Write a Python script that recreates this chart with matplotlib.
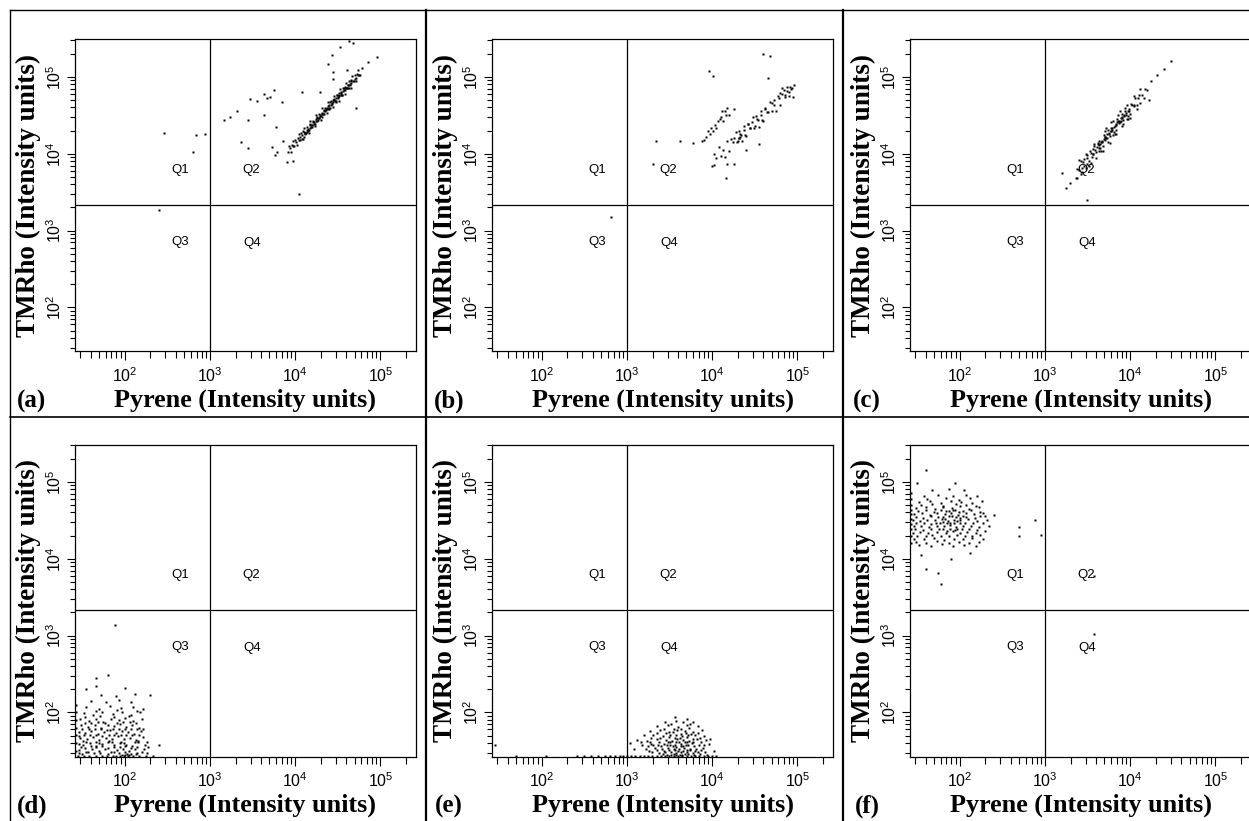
import numpy as np
import matplotlib.pyplot as plt
from matplotlib.lines import Line2D

# events, as (log10 Pyrene, log10 TMRho)
pts_a = [
    (3.92, 4.02), (3.93, 4.10), (3.94, 4.07), (3.95, 4.02), (3.96, 4.11), (3.97, 4.17), (3.98, 4.10),
    (3.99, 4.10), (4.00, 4.18), (4.01, 4.15), (4.02, 4.11), (4.03, 4.20), (4.04, 4.25), (4.05, 4.18),
    (4.06, 4.18), (4.07, 4.27), (4.08, 4.24), (4.09, 4.19), (4.10, 4.28), (4.11, 4.33), (4.12, 4.27),
    (4.13, 4.27), (4.14, 4.35), (4.15, 4.32), (4.16, 4.27), (4.17, 4.37), (4.18, 4.42), (4.19, 4.35),
    (4.20, 4.35), (4.21, 4.43), (4.22, 4.41), (4.23, 4.36), (4.24, 4.45), (4.25, 4.50), (4.26, 4.43),
    (4.27, 4.44), (4.28, 4.52), (4.29, 4.49), (4.30, 4.44), (4.31, 4.53), (4.32, 4.59), (4.33, 4.52),
    (4.34, 4.52), (4.35, 4.60), (4.36, 4.57), (4.37, 4.53), (4.38, 4.62), (4.39, 4.67), (4.40, 4.60),
    (4.41, 4.60), (4.42, 4.69), (4.43, 4.66), (4.44, 4.61), (4.45, 4.70), (4.46, 4.75), (4.47, 4.69),
    (4.48, 4.69), (4.49, 4.77), (4.50, 4.74), (4.51, 4.69), (4.52, 4.79), (4.53, 4.84), (4.54, 4.77),
    (4.55, 4.77), (4.56, 4.85), (4.57, 4.83), (4.58, 4.78), (4.59, 4.87), (4.60, 4.92), (4.61, 4.85),
    (4.62, 4.86), (4.63, 4.94), (4.64, 4.91), (4.65, 4.86), (4.66, 4.95), (4.67, 5.01), (4.68, 4.94),
    (4.69, 4.94), (4.70, 5.02), (4.71, 4.99), (4.72, 4.95), (4.73, 5.04), (4.74, 5.09), (4.75, 5.02),
    (4.76, 5.02), (4.78, 5.12),
    (4.055, 4.22), (4.075, 4.19), (4.095, 4.29), (4.115, 4.27), (4.135, 4.31), (4.155, 4.29),
    (4.175, 4.38), (4.195, 4.37), (4.215, 4.41), (4.235, 4.38), (4.255, 4.48), (4.275, 4.46),
    (4.295, 4.51), (4.315, 4.48), (4.335, 4.57), (4.355, 4.56), (4.375, 4.60), (4.395, 4.58),
    (4.415, 4.67), (4.435, 4.65), (4.455, 4.70), (4.475, 4.67), (4.495, 4.77), (4.515, 4.75),
    (4.535, 4.79), (4.555, 4.77), (4.575, 4.86), (4.595, 4.85), (4.615, 4.89), (4.635, 4.86),
    (4.655, 4.96),
    (4.10, 4.22), (4.14, 4.28), (4.18, 4.33), (4.22, 4.39), (4.26, 4.46), (4.30, 4.49), (4.34, 4.56),
    (4.38, 4.58), (4.42, 4.64), (4.46, 4.71), (4.50, 4.72), (4.54, 4.80), (4.58, 4.83), (4.62, 4.90),
    (4.66, 4.92), (4.70, 4.97), (4.12, 4.25), (4.16, 4.31), (4.20, 4.37), (4.24, 4.42), (4.28, 4.47),
    (4.32, 4.52), (4.36, 4.58), (4.40, 4.63), (4.44, 4.67), (4.48, 4.73), (4.52, 4.76), (4.56, 4.82),
    (4.60, 4.86), (4.64, 4.89),
    (2.46, 4.27), (2.84, 4.24), (2.94, 4.26), (2.80, 4.02), (2.40, 3.27), (3.17, 4.44), (3.24, 4.48),
    (3.32, 4.56), (3.47, 4.71), (3.55, 4.69), (3.63, 4.78), (3.67, 4.73), (3.75, 4.83), (3.71, 4.74),
    (3.85, 4.67), (3.63, 4.50), (3.45, 4.44), (3.36, 4.15), (3.45, 4.07), (4.08, 4.80), (4.43, 5.28),
    (4.53, 5.39), (4.63, 5.47), (4.68, 5.44), (4.39, 5.17), (4.45, 5.06), (4.61, 5.09), (4.86, 5.19),
    (4.96, 5.26), (4.72, 4.59), (4.04, 3.48), (3.90, 3.89), (3.98, 3.91), (3.77, 4.35), (3.73, 4.09),
    (3.79, 4.02), (3.76, 3.98), (3.86, 4.17), (4.29, 4.80), (4.45, 4.97), (4.74, 5.02),
]

pts_b = [
    (4.000, 3.84), (4.025, 4.00), (4.050, 3.95), (4.075, 4.09), (4.100, 3.97), (4.125, 4.05),
    (4.150, 3.96), (4.175, 4.16), (4.200, 4.04), (4.225, 4.19), (4.250, 4.15), (4.275, 4.28),
    (4.300, 4.17), (4.325, 4.25), (4.350, 4.16), (4.375, 4.36), (4.400, 4.23), (4.425, 4.39),
    (4.450, 4.34), (4.475, 4.48), (4.500, 4.36), (4.525, 4.45), (4.550, 4.35), (4.575, 4.56),
    (4.600, 4.43), (4.625, 4.58), (4.650, 4.54), (4.675, 4.67), (4.700, 4.56), (4.725, 4.64),
    (4.750, 4.55), (4.775, 4.75), (4.800, 4.63), (4.825, 4.78), (4.850, 4.74), (4.875, 4.87),
    (4.900, 4.75), (4.925, 4.84), (4.950, 4.74),
    (4.80, 4.79), (4.84, 4.83), (4.88, 4.82), (4.91, 4.87), (4.94, 4.86), (4.96, 4.89), (4.86, 4.76),
    (4.78, 4.72), (4.82, 4.86), (4.73, 4.70), (4.70, 4.66), (4.90, 4.80),
    (4.26, 4.21), (4.29, 4.15), (4.31, 4.29), (4.34, 4.24), (4.37, 4.31), (4.39, 4.24), (4.42, 4.39),
    (4.44, 4.34), (4.47, 4.41), (4.49, 4.34), (4.52, 4.49), (4.54, 4.44), (4.57, 4.51), (4.59, 4.44),
    (4.62, 4.59), (4.64, 4.54), (4.32, 4.21), (4.33, 4.22), (4.32, 4.20),
    (4.18, 4.59), (4.15, 4.55), (4.11, 4.48), (4.07, 4.42), (4.03, 4.37), (3.99, 4.33), (3.95, 4.29),
    (3.93, 4.22), (3.91, 4.18), (4.20, 4.51), (4.26, 4.58), (4.13, 4.42), (4.01, 4.29), (4.05, 4.34),
    (4.09, 4.45), (4.16, 4.50), (3.97, 4.25), (4.12, 4.56),
    (4.60, 5.30), (4.68, 5.27), (3.96, 5.07), (4.01, 5.01), (4.65, 4.99), (4.02, 3.85), (4.16, 3.69),
    (4.17, 3.86), (4.26, 3.86), (3.34, 4.16), (3.62, 4.16), (3.78, 4.14), (3.88, 4.17), (4.55, 4.12),
    (4.40, 4.05), (2.81, 3.17), (3.31, 3.86),
]

pts_c = [
    (3.36, 3.69), (3.38, 3.80), (3.40, 3.79), (3.42, 3.90), (3.44, 3.81), (3.46, 3.93), (3.48, 3.82),
    (3.50, 3.94), (3.52, 3.90), (3.54, 4.01), (3.56, 4.00), (3.58, 4.10), (3.60, 4.02), (3.62, 4.14),
    (3.64, 4.03), (3.66, 4.15), (3.68, 4.10), (3.70, 4.22), (3.72, 4.21), (3.74, 4.31), (3.76, 4.23),
    (3.78, 4.34), (3.80, 4.24), (3.82, 4.36), (3.84, 4.31), (3.86, 4.43), (3.88, 4.41), (3.90, 4.52),
    (3.92, 4.44), (3.94, 4.55), (3.96, 4.45), (3.98, 4.56), (4.00, 4.52), (4.02, 4.64), (4.04, 4.62),
    (4.06, 4.73), (4.08, 4.64), (4.10, 4.76), (4.12, 4.66), (4.14, 4.77), (4.16, 4.73), (4.18, 4.84),
    (4.20, 4.83),
    (3.45, 3.89), (3.49, 3.87), (3.53, 4.03), (3.57, 4.00), (3.61, 4.09), (3.65, 4.08), (3.69, 4.24),
    (3.73, 4.21), (3.77, 4.30), (3.81, 4.28), (3.85, 4.45), (3.89, 4.42), (3.93, 4.51), (3.97, 4.49),
    (4.01, 4.65), (4.05, 4.63), (4.09, 4.72), (3.67, 4.15), (3.71, 4.18), (3.75, 4.26), (3.79, 4.31),
    (3.83, 4.38), (3.87, 4.40), (3.91, 4.47), (3.95, 4.50), (3.99, 4.58), (3.63, 4.08), (3.59, 4.05),
    (3.55, 3.96),
    (3.40, 3.92), (3.44, 3.76), (3.48, 4.00), (3.52, 3.84), (3.56, 4.06), (3.60, 3.94), (3.64, 4.17),
    (3.68, 4.04), (3.72, 4.33), (3.76, 4.14), (3.80, 4.43), (3.84, 4.26), (3.88, 4.55), (3.92, 4.38),
    (3.96, 4.64), (4.00, 4.46), (4.04, 4.75), (4.08, 4.58), (4.12, 4.84), (3.62, 4.13), (3.66, 4.04),
    (3.70, 4.29), (3.74, 4.15), (3.78, 4.41), (3.82, 4.25), (3.86, 4.50), (3.90, 4.36), (3.94, 4.60),
    (3.98, 4.45), (3.50, 3.98), (3.54, 3.88), (3.58, 4.12), (3.46, 3.84), (3.42, 3.74), (3.38, 3.68),
    (3.63, 4.11), (3.67, 4.16), (3.71, 4.22), (3.75, 4.27), (3.79, 4.33), (3.83, 4.37), (3.87, 4.42),
    (3.91, 4.48), (3.95, 4.53), (3.99, 4.56), (3.65, 4.12), (3.69, 4.19), (3.73, 4.25), (3.77, 4.29),
    (3.81, 4.35), (3.85, 4.41), (3.89, 4.46), (3.93, 4.49),
    (4.25, 4.95), (4.32, 5.02), (4.40, 5.10), (4.48, 5.20), (3.30, 3.62), (3.25, 3.55), (3.50, 3.40),
    (4.22, 4.70), (3.20, 3.75),
]

pts_d = [
    (1.45, 1.43), (1.52, 1.43), (1.58, 1.43), (1.66, 1.43), (1.73, 1.43), (1.79, 1.43), (1.86, 1.43),
    (1.90, 1.43), (1.95, 1.43), (1.99, 1.43), (2.04, 1.43), (2.10, 1.43), (2.17, 1.43), (2.25, 1.43),
    (2.33, 1.43),
    (1.47, 1.51), (1.55, 1.49), (1.62, 1.52), (1.70, 1.50), (1.77, 1.53), (1.84, 1.49), (1.91, 1.51),
    (1.98, 1.52), (2.05, 1.50), (2.12, 1.53), (2.20, 1.49),
    (1.46, 1.59), (1.51, 1.57), (1.59, 1.60), (1.66, 1.56), (1.74, 1.59), (1.81, 1.61), (1.88, 1.57),
    (1.95, 1.60), (2.02, 1.58), (2.09, 1.56), (2.16, 1.61), (2.24, 1.58),
    (1.48, 1.67), (1.56, 1.65), (1.63, 1.68), (1.70, 1.64), (1.78, 1.67), (1.85, 1.66), (1.92, 1.69),
    (1.99, 1.65), (2.06, 1.67), (2.13, 1.64), (2.21, 1.68),
    (1.47, 1.75), (1.54, 1.73), (1.61, 1.76), (1.69, 1.72), (1.76, 1.75), (1.83, 1.77), (1.90, 1.73),
    (1.97, 1.76), (2.04, 1.74), (2.11, 1.72), (2.19, 1.76),
    (1.49, 1.83), (1.57, 1.81), (1.65, 1.84), (1.72, 1.80), (1.80, 1.83), (1.88, 1.82), (1.95, 1.85),
    (2.02, 1.81), (2.09, 1.84), (2.17, 1.80),
    (1.48, 1.91), (1.58, 1.89), (1.67, 1.92), (1.75, 1.88), (1.84, 1.91), (1.93, 1.90), (2.01, 1.93),
    (2.10, 1.89), (2.20, 1.92),
    (1.52, 1.99), (1.63, 1.97), (1.74, 2.00), (1.86, 1.98), (1.97, 2.01), (2.08, 1.97), (2.18, 2.00),
    (1.55, 2.07), (1.70, 2.05), (1.83, 2.08), (1.96, 2.06), (2.10, 2.07), (2.22, 2.05),
    (1.60, 2.15), (1.78, 2.13), (1.93, 2.16), (2.07, 2.14),
    (1.72, 2.23), (1.90, 2.21), (2.12, 2.24), (2.30, 2.22),
    (1.50, 1.46), (1.64, 1.47), (1.81, 1.46), (1.93, 1.47), (2.07, 1.46), (2.15, 1.47),
    (1.53, 1.54), (1.67, 1.55), (1.80, 1.54), (1.94, 1.55), (2.07, 1.54), (2.23, 1.53),
    (1.51, 1.63), (1.67, 1.62), (1.82, 1.63), (1.96, 1.62), (2.16, 1.63),
    (1.52, 1.70), (1.66, 1.71), (1.82, 1.70), (1.96, 1.71), (2.09, 1.70),
    (1.58, 1.78), (1.72, 1.79), (1.86, 1.78), (2.00, 1.79), (2.14, 1.78),
    (1.53, 1.86), (1.69, 1.87), (1.91, 1.86), (2.06, 1.87),
    (1.46, 1.47), (1.57, 1.48), (1.71, 1.47), (1.87, 1.48), (2.00, 1.48), (2.13, 1.46), (2.26, 1.47),
    (1.49, 1.55), (1.60, 1.56), (1.73, 1.56), (1.87, 1.55), (2.00, 1.56), (2.14, 1.55), (2.28, 1.55),
    (1.55, 1.61), (1.70, 1.60), (1.85, 1.62), (1.99, 1.60), (2.12, 1.62), (2.26, 1.62),
    (1.46, 1.69), (1.59, 1.70), (1.74, 1.69), (1.88, 1.70), (2.02, 1.70), (2.17, 1.71),
    (1.50, 1.78), (1.65, 1.78), (1.79, 1.77), (1.93, 1.79), (2.07, 1.78), (2.22, 1.79),
    (1.61, 1.86), (1.77, 1.86), (1.98, 1.87), (2.13, 1.86),
    (1.53, 1.94), (1.71, 1.95), (1.88, 1.94), (2.05, 1.95),
    (1.66, 2.02), (1.91, 2.03), (2.14, 2.02),
    (1.97, 1.44), (2.01, 1.45), (2.05, 1.44), (2.03, 1.46),
    (1.43, 1.50), (1.43, 1.60), (1.43, 1.70), (1.43, 1.80), (1.43, 1.90), (1.43, 2.00), (1.43, 2.10),
    (1.89, 3.14), (1.81, 2.49), (1.67, 2.45), (1.66, 2.34), (2.40, 1.58), (1.55, 2.30), (2.00, 2.32),
]

pts_e = [
    (2.42, 1.43), (2.50, 1.43), (2.58, 1.43), (2.66, 1.43), (2.74, 1.43), (2.80, 1.43), (2.86, 1.43),
    (2.92, 1.43), (2.96, 1.43), (3.00, 1.43), (3.05, 1.43), (3.10, 1.43), (3.15, 1.43), (3.20, 1.43),
    (3.25, 1.43), (3.30, 1.43), (3.35, 1.43), (3.40, 1.43), (3.45, 1.43), (3.50, 1.43), (3.55, 1.43),
    (3.60, 1.43), (3.65, 1.43), (3.70, 1.43), (3.75, 1.43), (3.80, 1.43), (3.85, 1.43), (3.90, 1.43),
    (3.95, 1.43), (4.00, 1.43), (4.04, 1.43), (1.45, 1.58), (1.70, 1.43), (2.05, 1.43),
    (3.30, 1.48), (3.38, 1.47), (3.45, 1.49), (3.52, 1.48), (3.58, 1.47), (3.64, 1.49), (3.70, 1.48),
    (3.77, 1.47), (3.84, 1.49), (3.92, 1.48),
    (3.22, 1.53), (3.33, 1.54), (3.41, 1.52), (3.48, 1.54), (3.55, 1.53), (3.61, 1.52), (3.67, 1.54),
    (3.74, 1.53), (3.81, 1.52), (3.89, 1.54),
    (3.18, 1.58), (3.28, 1.59), (3.37, 1.57), (3.44, 1.59), (3.51, 1.58), (3.57, 1.57), (3.63, 1.59),
    (3.69, 1.58), (3.76, 1.60), (3.85, 1.57), (3.96, 1.59),
    (3.12, 1.64), (3.24, 1.63), (3.35, 1.65), (3.46, 1.64), (3.53, 1.63), (3.59, 1.65), (3.66, 1.64),
    (3.73, 1.63), (3.82, 1.65), (3.93, 1.64),
    (3.20, 1.70), (3.31, 1.71), (3.42, 1.69), (3.51, 1.71), (3.58, 1.70), (3.65, 1.69), (3.72, 1.71),
    (3.80, 1.70), (3.90, 1.69),
    (3.27, 1.76), (3.39, 1.77), (3.50, 1.75), (3.59, 1.77), (3.68, 1.76), (3.77, 1.75), (3.88, 1.77),
    (3.35, 1.82), (3.48, 1.83), (3.60, 1.81), (3.70, 1.83), (3.83, 1.82),
    (3.45, 1.88), (3.58, 1.89), (3.66, 1.87), (3.78, 1.88),
    (3.57, 1.94), (3.70, 1.92), (3.04, 1.60), (3.08, 1.52), (4.02, 1.50), (3.98, 1.66),
    (3.47, 1.45), (3.55, 1.46), (3.62, 1.45), (3.68, 1.46), (3.50, 1.51), (3.60, 1.50), (3.70, 1.51),
    (3.54, 1.56), (3.66, 1.56), (3.48, 1.61), (3.61, 1.61), (3.71, 1.61), (3.56, 1.67), (3.63, 1.72),
    (3.55, 1.79),
    (3.26, 1.50), (3.35, 1.51), (3.43, 1.50), (3.57, 1.51), (3.66, 1.50), (3.74, 1.51), (3.80, 1.50),
    (3.87, 1.51), (3.25, 1.56), (3.31, 1.57), (3.40, 1.56), (3.47, 1.57), (3.58, 1.55), (3.64, 1.56),
    (3.72, 1.57), (3.79, 1.56), (3.91, 1.57), (3.16, 1.61), (3.27, 1.62), (3.38, 1.61), (3.51, 1.62),
    (3.58, 1.61), (3.68, 1.62), (3.78, 1.61), (3.87, 1.62), (3.28, 1.67), (3.39, 1.67), (3.49, 1.68),
    (3.62, 1.67), (3.70, 1.68), (3.78, 1.66), (3.86, 1.67), (3.35, 1.73), (3.46, 1.73), (3.54, 1.74),
    (3.69, 1.73), (3.75, 1.72), (3.84, 1.73), (3.43, 1.79), (3.64, 1.79), (3.73, 1.80), (3.52, 1.85),
    (3.74, 1.85), (3.42, 1.46), (3.52, 1.45), (3.58, 1.45), (3.65, 1.45), (3.72, 1.46), (3.79, 1.45),
    (3.86, 1.46), (3.94, 1.45),
]

pts_f = [
    (1.43, 4.20), (1.43, 4.30), (1.43, 4.38), (1.43, 4.45), (1.43, 4.52), (1.43, 4.58), (1.43, 4.64),
    (1.43, 4.70), (1.43, 4.78), (1.43, 4.85),
    (1.52, 4.18), (1.66, 4.17), (1.79, 4.19), (1.92, 4.16), (2.05, 4.18), (2.19, 4.17),
    (1.47, 4.26), (1.58, 4.25), (1.70, 4.27), (1.82, 4.24), (1.93, 4.26), (2.04, 4.25), (2.15, 4.27),
    (2.27, 4.25),
    (1.45, 4.34), (1.53, 4.35), (1.63, 4.33), (1.74, 4.35), (1.84, 4.34), (1.92, 4.36), (2.00, 4.33),
    (2.09, 4.35), (2.19, 4.34), (2.30, 4.36),
    (1.46, 4.42), (1.55, 4.43), (1.64, 4.41), (1.73, 4.43), (1.82, 4.42), (1.89, 4.44), (1.96, 4.41),
    (2.04, 4.43), (2.13, 4.42), (2.23, 4.41), (2.35, 4.43),
    (1.45, 4.50), (1.53, 4.49), (1.62, 4.51), (1.71, 4.50), (1.79, 4.52), (1.86, 4.49), (1.93, 4.51),
    (2.01, 4.50), (2.10, 4.52), (2.20, 4.49), (2.32, 4.51),
    (1.47, 4.58), (1.56, 4.59), (1.65, 4.57), (1.74, 4.59), (1.83, 4.58), (1.90, 4.60), (1.98, 4.57),
    (2.07, 4.59), (2.17, 4.58), (2.28, 4.60), (2.40, 4.57),
    (1.49, 4.66), (1.60, 4.67), (1.71, 4.65), (1.81, 4.67), (1.91, 4.66), (2.01, 4.68), (2.11, 4.65),
    (2.23, 4.67),
    (1.52, 4.74), (1.65, 4.75), (1.78, 4.73), (1.90, 4.75), (2.02, 4.74), (2.15, 4.73), (2.26, 4.75),
    (1.58, 4.82), (1.75, 4.83), (1.92, 4.81), (2.08, 4.83), (2.20, 4.82),
    (1.68, 4.90), (1.88, 4.91), (2.05, 4.89),
    (1.77, 4.46), (1.85, 4.46), (1.93, 4.47), (2.00, 4.46), (1.80, 4.54), (1.88, 4.55), (1.96, 4.54),
    (2.04, 4.55), (1.84, 4.62), (1.92, 4.63), (1.99, 4.61), (1.81, 4.39), (1.89, 4.38), (1.97, 4.39),
    (2.24, 4.55),
    (1.49, 4.22), (1.61, 4.21), (1.74, 4.23), (1.87, 4.21), (1.99, 4.22), (2.11, 4.21), (2.23, 4.22),
    (1.50, 4.30), (1.60, 4.29), (1.68, 4.31), (1.78, 4.30), (1.88, 4.29), (1.97, 4.31), (2.06, 4.30),
    (2.14, 4.29), (2.24, 4.31), (1.48, 4.38), (1.57, 4.37), (1.67, 4.39), (1.76, 4.38), (1.85, 4.36),
    (1.94, 4.37), (2.03, 4.38), (2.11, 4.39), (2.20, 4.37), (1.49, 4.46), (1.58, 4.47), (1.67, 4.45),
    (1.72, 4.47), (1.81, 4.48), (1.89, 4.46), (1.97, 4.49), (2.06, 4.46), (2.16, 4.47), (2.27, 4.46),
    (1.49, 4.54), (1.57, 4.53), (1.66, 4.55), (1.75, 4.54), (1.83, 4.52), (1.91, 4.55), (2.00, 4.53),
    (2.08, 4.54), (2.18, 4.53), (2.30, 4.55), (1.51, 4.62), (1.61, 4.63), (1.70, 4.61), (1.78, 4.63),
    (1.87, 4.62), (1.95, 4.64), (2.04, 4.62), (2.13, 4.63), (2.24, 4.61), (1.55, 4.70), (1.68, 4.71),
    (1.80, 4.69), (1.96, 4.71), (2.08, 4.70), (2.19, 4.69), (1.62, 4.78), (1.84, 4.79), (1.99, 4.77),
    (2.12, 4.79),
    (1.61, 5.15), (1.50, 4.98), (1.95, 4.98), (2.70, 4.41), (2.70, 4.29), (2.88, 4.50), (2.95, 4.31),
    (1.78, 3.67), (1.75, 3.81), (1.60, 3.87), (1.90, 4.00), (3.58, 3.78), (3.58, 3.02), (1.55, 4.05),
    (2.12, 4.08),
]

panels = [pts_a, pts_b, pts_c, pts_d, pts_e, pts_f]
letters = ['(a)', '(b)', '(c)', '(d)', '(e)', '(f)']
quad_names = ['Q1', 'Q2', 'Q3', 'Q4']
quad_pos = [(2.65, 3.79), (3.48, 3.79), (2.65, 2.85), (3.50, 2.84)]  # log10 positions
gate_x = 1000
gate_y = 2120
major_ticks = [1e2, 1e3, 1e4, 1e5]
major_labels = [r'$\mathregular{10^{2}}$', r'$\mathregular{10^{3}}$',
                r'$\mathregular{10^{4}}$', r'$\mathregular{10^{5}}$']
minor_ticks = [m * 10 ** e for e in range(1, 6) for m in range(2, 10)]
x_label = 'Pyrene (Intensity units)'
y_label = 'TMRho (Intensity units)'

W, H = 1249, 821
fig = plt.figure(figsize=(W / 100, H / 100), dpi=100)

col_left = [75, 492, 910]
row_top = [39.5, 444.5]
AX_W, AX_H = 341, 312
xlim = (10 ** 1.418, 10 ** 5.418)
ylim = (10 ** 1.426, 10 ** 5.486)

for k, pts in enumerate(panels):
    r, c = divmod(k, 3)
    l, t = col_left[c], row_top[r]
    ax = fig.add_axes([l / W, 1 - (t + AX_H) / H, AX_W / W, AX_H / H])
    ax.set_xscale('log')
    ax.set_yscale('log')

    lx = np.array([p[0] for p in pts])
    ly = np.array([p[1] for p in pts])
    ax.plot(10 ** lx, 10 ** ly, 's', ms=1.9, mec='none', mfc='black', clip_on=False)

    ax.axvline(gate_x, color='black', lw=0.9)
    ax.axhline(gate_y, color='black', lw=0.9)
    for name, (qx, qy) in zip(quad_names, quad_pos):
        ax.text(10 ** qx, 10 ** qy, name, ha='center', va='center',
                fontsize=9.5, family='Liberation Sans')

    ax.set_xticks(major_ticks)
    ax.set_xticks(minor_ticks, minor=True)
    ax.set_xticklabels(major_labels, family='Liberation Sans', fontsize=11.5)
    ax.set_xticklabels([], minor=True)
    ax.set_yticks(major_ticks)
    ax.set_yticks(minor_ticks, minor=True)
    ax.set_yticklabels(major_labels, family='Liberation Sans', fontsize=11.5,
                       rotation=90, va='center')
    ax.set_yticklabels([], minor=True)
    ax.set_xlim(xlim)
    ax.set_ylim(ylim)
    ax.tick_params(axis='x', which='major', direction='out', length=6.5, width=0.8, pad=4.5)
    ax.tick_params(axis='x', which='minor', direction='out', length=5, width=0.8)
    ax.tick_params(axis='y', which='major', direction='out', length=6, width=0.8, pad=2)
    ax.tick_params(axis='y', which='minor', direction='out', length=3.5, width=0.8)
    for s in ax.spines.values():
        s.set_linewidth(0.9)

    cx = l + AX_W / 2
    fig.text(cx / W, 1 - (t + 361) / H, x_label, ha='center', va='center',
             family='Liberation Serif', weight='bold', fontsize=18.8)
    fig.text((l - 47) / W, 1 - (t + AX_H / 2) / H, y_label, ha='center', va='center',
             rotation=90, family='Liberation Serif', weight='bold', fontsize=19.5)
    fig.text((l - 43) / W, 1 - (t + 362) / H, letters[k], ha='center', va='center',
             family='Liberation Serif', weight='bold', fontsize=18)

# panel frame lines
frame = [((9.5, W), (10.5, 10.5), 1.0), ((9.5, 9.5), (10.5, H), 1.0),
         ((426, 426), (10.5, H), 1.6), ((843, 843), (10.5, H), 1.6),
         ((9.5, W), (417, 417), 1.2)]
for (x0, x1), (y0, y1), lw in frame:
    fig.add_artist(Line2D([x0 / W, x1 / W], [1 - y0 / H, 1 - y1 / H],
                          transform=fig.transFigure, color='black', lw=lw))

fig.savefig('out.png', dpi=100)
